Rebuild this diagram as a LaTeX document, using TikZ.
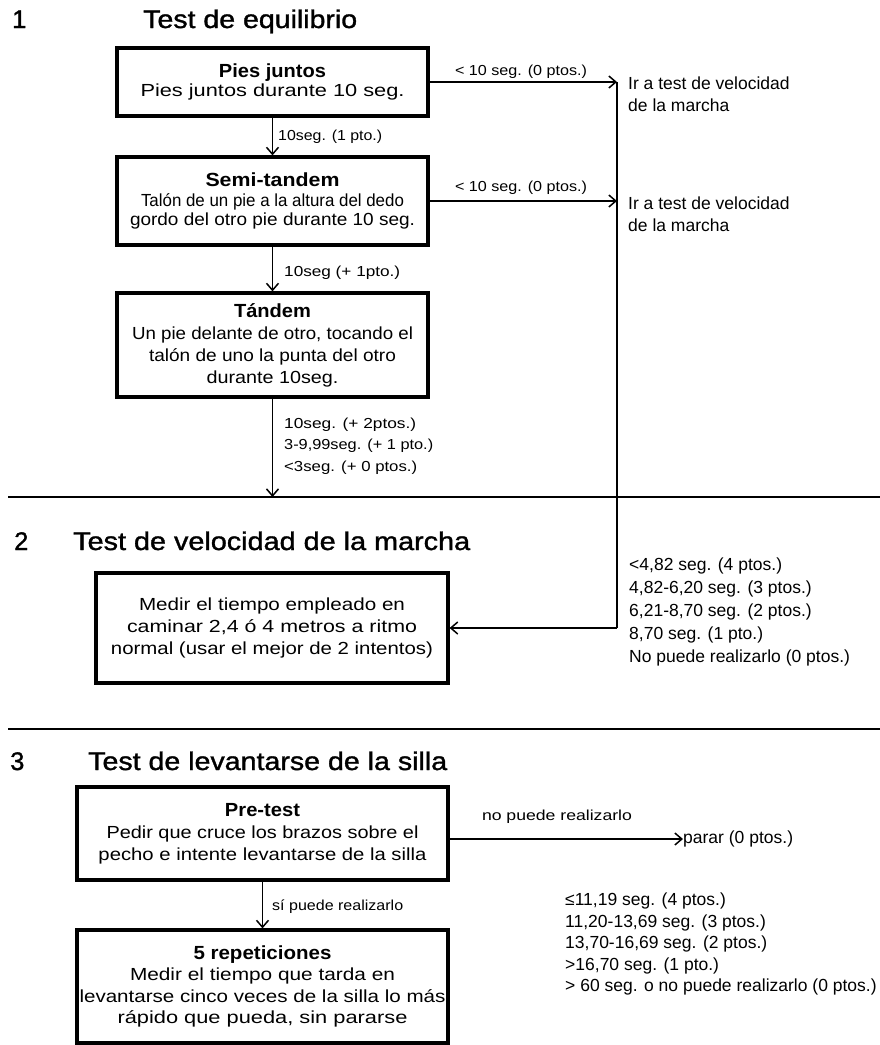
\documentclass[tikz,border=0pt]{standalone}
\usepackage{fontspec}
\setmainfont{Liberation Sans}
\newfontfamily\headfont[FakeBold=1.2]{Liberation Sans}
\usepackage{graphicx}
\usetikzlibrary{arrows.meta}
\newlength\fwlen
\newcommand{\fw}[2]{\settowidth\fwlen{#2}\pgfmathsetmacro\fwr{#1/\fwlen}\scalebox{\fwr}[1]{#2}}
\newcommand{\bxt}[1]{{\bfseries\fontsize{19}{20}\selectfont #1}}
\begin{document}
\begin{tikzpicture}[x=1pt,y=-1pt,
  box/.style={draw, line width=3.2pt, inner sep=0pt, align=center},
  arr/.style={line width=1.5pt, -{Straight Barb[length=7pt,width=12pt]}},
  lbl/.style={font=\fontsize{14.5}{21.5}\selectfont, inner sep=0pt, align=left},
  plain/.style={font=\fontsize{17.5}{22}\selectfont, inner sep=0pt, align=left},
  head/.style={font=\headfont\fontsize{25.5}{28}\selectfont, inner sep=0pt, anchor=base west},
  sep/.style={line width=2.2pt},
  conn/.style={line width=1.8pt}]
\path[use as bounding box] (0,0) rectangle (880,1045);

% headings
\node[head] (n1) at (12,28) {1};
\node[head] (h1) at (143,28) {\fw{214}{Test de equilibrio}};
\node[head] (n2) at (14,550) {2};
\node[head] (h2) at (73,550) {\fw{397}{Test de velocidad de la marcha}};
\node[head] (n3) at (10,770) {3};
\node[head] (h3) at (88,770) {\fw{359}{Test de levantarse de la silla}};

% section 1 boxes
\node[box, minimum width=311pt, minimum height=68pt, font=\fontsize{17.5}{19}\selectfont] (b1) at (272.5,82)
  {\bxt{\fw{107}{Pies juntos}}\\\fw{264}{Pies juntos durante 10 seg.}};
\node[box, minimum width=311pt, minimum height=88pt, font=\fontsize{17.5}{19.5}\selectfont] (b2) at (272.5,201)
  {\bxt{\fw{134}{Semi-tandem}}\\\fw{263}{Talón de un pie a la altura del dedo}\\\fw{285}{gordo del otro pie durante 10 seg.}};
\node[box, minimum width=311pt, minimum height=104pt, font=\fontsize{17.5}{22}\selectfont] (b3) at (272.5,345)
  {\bxt{\fw{77}{Tándem}}\\\fw{281}{Un pie delante de otro, tocando el}\\\fw{247}{talón de uno la punta del otro}\\\fw{132}{durante 10seg.}};

% section 2 box
\node[box, minimum width=352pt, minimum height=110pt, font=\fontsize{17.5}{22}\selectfont] (m) at (272,628)
  {\fw{266}{Medir el tiempo empleado en}\\\fw{290}{caminar 2,4 ó 4 metros a ritmo}\\\fw{322}{normal (usar el mejor de 2 intentos)}};

% section 3 boxes
\node[box, minimum width=371pt, minimum height=93pt, font=\fontsize{17.5}{22}\selectfont] (p) at (262.5,833.5)
  {\bxt{\fw{75}{Pre-test}}\\\fw{312}{Pedir que cruce los brazos sobre el}\\\fw{328}{pecho e intente levantarse de la silla}};
\node[box, minimum width=371pt, minimum height=113pt, font=\fontsize{17.5}{21.5}\selectfont] (r) at (262.5,986.5)
  {\bxt{\fw{138}{5 repeticiones}}\\\fw{265}{Medir el tiempo que tarda en}\\\fw{366}{levantarse cinco veces de la silla lo más}\\\fw{290}{rápido que pueda, sin pararse}};

% labels
\node[lbl] (l1) at (521,72) {\fw{132}{< 10 seg. (0 ptos.)}};
\node[lbl] (l2) at (521,188) {\fw{132}{< 10 seg. (0 ptos.)}};
\node[lbl, anchor=west] (l3) at (278,137) {\fw{104}{10seg. (1 pto.)}};
\node[lbl, anchor=west] (l4) at (284,273) {\fw{116}{10seg (+ 1pto.)}};
\node[lbl, anchor=west] (l5) at (284,446)
  {\fw{132}{10seg. (+ 2ptos.)}\\\fw{149}{3-9,99seg. (+ 1 pto.)}\\\fw{133}{<3seg. (+ 0 ptos.)}};
\node[lbl] (l6) at (557,817) {\fw{150}{no puede realizarlo}};
\node[lbl, anchor=west] (l7) at (272,907) {\fw{131}{sí puede realizarlo}};

% plain texts
\node[plain, anchor=west] (ir1) at (628,94) {Ir a test de velocidad\\de la marcha};
\node[plain, anchor=west] (ir2) at (628,214) {Ir a test de velocidad\\de la marcha};
\node[plain, anchor=west, font=\fontsize{17.5}{23}\selectfont] (v) at (629,612)
  {<4,82 seg. (4 ptos.)\\4,82-6,20 seg. (3 ptos.)\\6,21-8,70 seg. (2 ptos.)\\8,70 seg. (1 pto.)\\No puede realizarlo (0 ptos.)};
\node[plain, anchor=west] (parar) at (683,839) {parar (0 ptos.)};
\node[plain, anchor=west, font=\fontsize{17.5}{21.5}\selectfont] (c) at (565,944)
  {≤11,19 seg. (4 ptos.)\\11,20-13,69 seg. (3 ptos.)\\13,70-16,69 seg. (2 ptos.)\\>16,70 seg. (1 pto.)\\> 60 seg. o no puede realizarlo (0 ptos.)};

% coordinates
\coordinate (j1) at (617,82);
\coordinate (j3) at (617,628);
\coordinate (s1a) at (8,497);
\coordinate (s1b) at (880,497);
\coordinate (s2a) at (8,729);
\coordinate (s2b) at (880,729);

% separators
\draw[sep] (s1a) -- (s1b);
\draw[sep] (s2a) -- (s2b);

% connectors section 1
\draw[conn] (j1) -- (j3);
\draw[arr] (b1.east) -- (b1.east -| j1);
\draw[arr] (b2.east) -- (b2.east -| j1);
\draw[arr] (b1.south) -- (b2.north);
\draw[arr] (b2.south) -- (b3.north);
\draw[arr] (b3.south) -- (b3.south |- s1a);
\draw[arr] (j3) -- (m.east);

% section 3
\draw[arr] (p.east |- parar) -- (parar.west);
\draw[arr] (p.south) -- (r.north);
\end{tikzpicture}
\end{document}
